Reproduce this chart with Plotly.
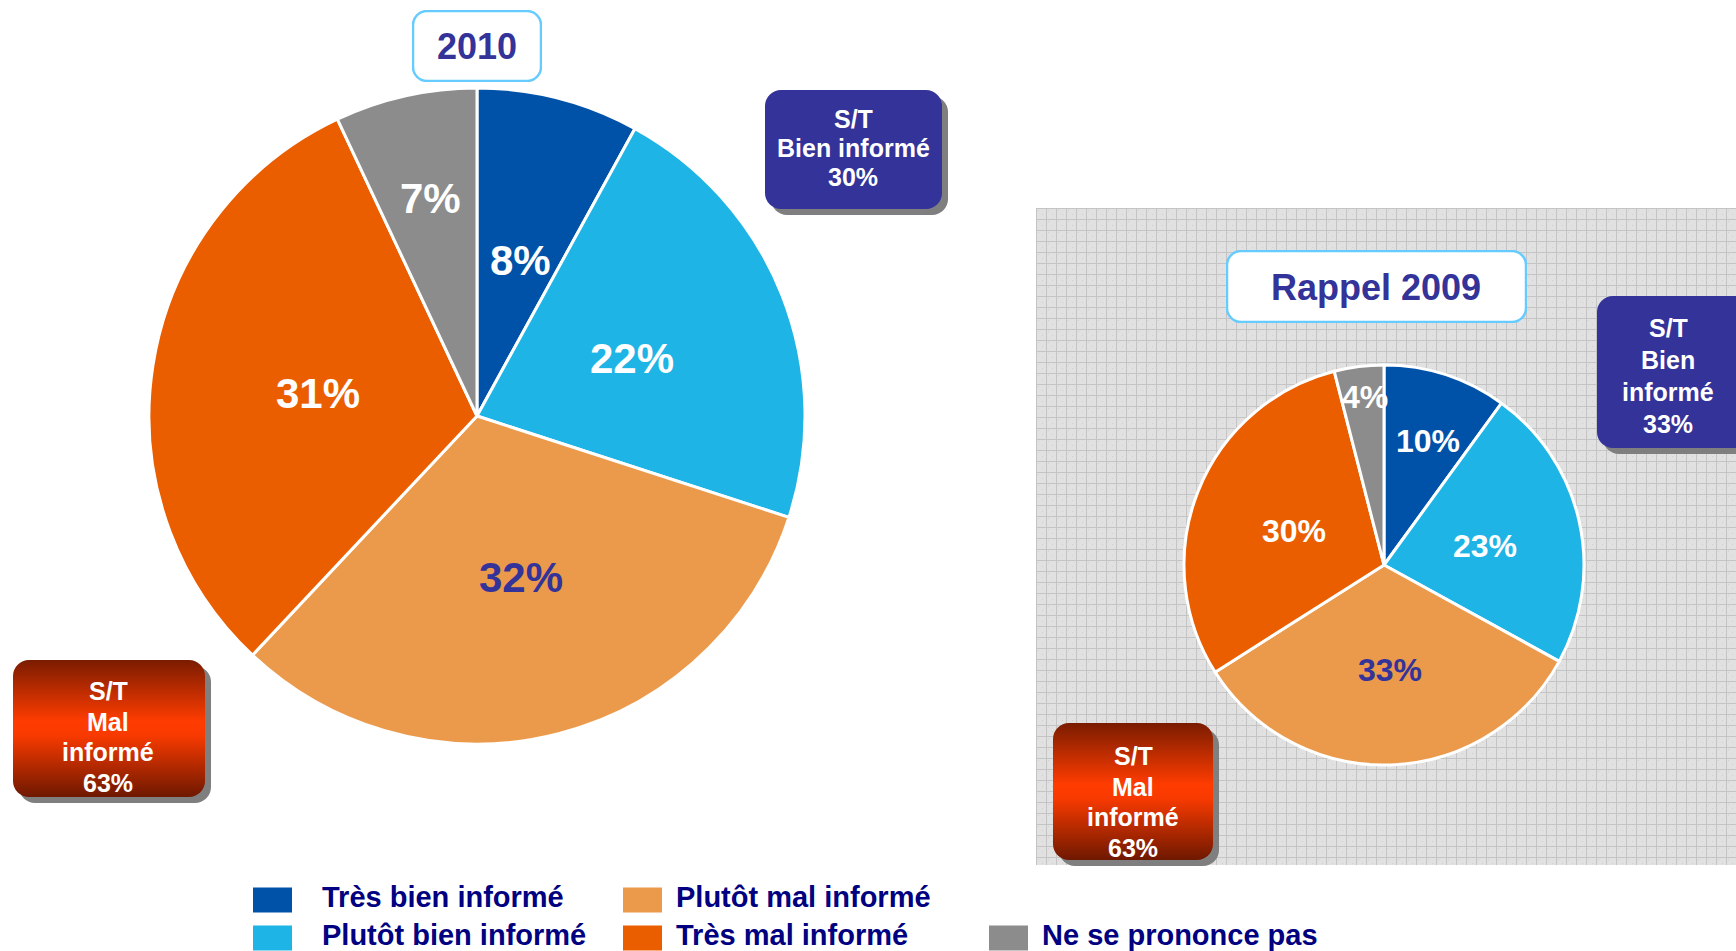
import base64
import math
import plotly.graph_objects as go

# ---------------- data ----------------
categories = ["Très bien informé", "Plutôt bien informé", "Plutôt mal informé",
              "Très mal informé", "Ne se prononce pas"]
values_2010 = [8, 22, 32, 31, 7]
values_2009 = [10, 23, 33, 30, 4]
title_2010 = "2010"
title_2009 = "Rappel 2009"
st_bien_2010 = ["S/T", "Bien informé", "30%"]
st_mal_2010 = ["S/T", "Mal", "informé", "63%"]
st_bien_2009 = ["S/T", "Bien", "informé", "33%"]
st_mal_2009 = ["S/T", "Mal", "informé", "63%"]

# ---------------- styles ----------------
W, H = 1736, 951
colors = ["#0052A8", "#1EB4E6", "#EB9A4C", "#EA5E00", "#8C8C8C"]
text_colors = ["white", "white", "#333399", "white", "white"]
FONT = "Liberation Sans, Arial, sans-serif"
# label distance from centre (fraction of radius), per slice
label_r_2010 = [0.5, 0.5, 0.5, 0.5, 0.69]
label_r_2009 = [0.67, 0.5, 0.51, 0.5, 0.86]
PIE1 = dict(cx=477, cy=416, r=328)
PIE2 = dict(cx=1384, cy=565, r=200)
LABEL_SHIFT = (3, 3)


def fx(x):
    return x / W


def fy(y):
    return 1 - y / H


def svg_uri(svg):
    return "data:image/svg+xml;base64," + base64.b64encode(svg.encode("utf-8")).decode()


def box_image(x0, y0, w, h, fill, r=16, shadow=6, stroke=None, layer="above"):
    tw, th = w + shadow + 2, h + shadow + 2
    defs = ""
    if fill == "redgrad":
        defs = ('<defs><linearGradient id="g" x1="0" y1="0" x2="0" y2="1">'
                '<stop offset="0" stop-color="#7A1C00"/>'
                '<stop offset="0.45" stop-color="#FF3C00"/>'
                '<stop offset="0.55" stop-color="#F83A00"/>'
                '<stop offset="1" stop-color="#6E1800"/></linearGradient></defs>')
        fill_attr = "url(#g)"
    else:
        fill_attr = fill
    sh = ""
    if shadow:
        sh = f'<rect x="{shadow+1}" y="{shadow+1}" width="{w}" height="{h}" rx="{r}" fill="#7F7F7F"/>'
    st = f' stroke="{stroke}" stroke-width="2.5"' if stroke else ""
    svg = (f'<svg xmlns="http://www.w3.org/2000/svg" width="{tw}" height="{th}" '
           f'viewBox="0 0 {tw} {th}">{defs}{sh}'
           f'<rect x="1" y="1" width="{w}" height="{h}" rx="{r}" fill="{fill_attr}"{st}/></svg>')
    return dict(source=svg_uri(svg), xref="paper", yref="paper",
                x=fx(x0 - 1), y=fy(y0 - 1), sizex=tw / W, sizey=th / H,
                xanchor="left", yanchor="top", sizing="stretch", layer=layer)


def panel_image(x0, y0, w, h):
    svg = (f'<svg xmlns="http://www.w3.org/2000/svg" width="{w}" height="{h}" viewBox="0 0 {w} {h}">'
           '<defs><pattern id="p" width="10" height="11" patternUnits="userSpaceOnUse">'
           '<rect width="10" height="11" fill="#E1E1E1"/>'
           '<rect x="2" y="2" width="1" height="1" fill="#D0D0D0"/>'
           '<rect x="6" y="6" width="1" height="1" fill="#D0D0D0"/>'
           '<path d="M0 0.5H10M0.5 0V11" stroke="#C4C4C4" stroke-width="1"/></pattern></defs>'
           f'<rect width="{w}" height="{h}" fill="url(#p)"/></svg>')
    return dict(source=svg_uri(svg), xref="paper", yref="paper",
                x=fx(x0), y=fy(y0), sizex=w / W, sizey=h / H,
                xanchor="left", yanchor="top", sizing="stretch", layer="below")


def text_lines(lines, cx, y_first, spacing, size, color):
    anns = []
    for i, t in enumerate(lines):
        anns.append(dict(text=t, x=fx(cx), y=fy(y_first + i * spacing), xref="paper", yref="paper",
                         showarrow=False, xanchor="center", yanchor="middle",
                         font=dict(family=FONT, size=size, color=color, weight="bold")))
    return anns


def pie_labels(values, pie, rfracs, size):
    anns = []
    total = float(sum(values))
    cum = 0.0
    for v, rf, col in zip(values, rfracs, text_colors):
        mid = (cum + v / 2.0) / total * 2 * math.pi
        cum += v
        x = pie["cx"] + rf * pie["r"] * math.sin(mid) + LABEL_SHIFT[0]
        y = pie["cy"] - rf * pie["r"] * math.cos(mid) + LABEL_SHIFT[1]
        anns.append(dict(text=f"{v}%", x=fx(x), y=fy(y), xref="paper", yref="paper",
                         showarrow=False, xanchor="center", yanchor="middle",
                         font=dict(family=FONT, size=size, color=col, weight="bold")))
    return anns


def pie_domain(p):
    return dict(x=[fx(p["cx"] - p["r"]), fx(p["cx"] + p["r"])],
                y=[fy(p["cy"] + p["r"]), fy(p["cy"] - p["r"])])


fig = go.Figure()

# ---------------- pies ----------------
for vals, p in ((values_2010, PIE1), (values_2009, PIE2)):
    fig.add_trace(go.Pie(
        labels=categories, values=vals, sort=False, direction="clockwise", rotation=0,
        marker=dict(colors=colors, line=dict(color="white", width=3)),
        textinfo="none", hoverinfo="label+value", showlegend=False,
        domain=pie_domain(p),
    ))

# ---------------- decorations ----------------
images = [
    panel_image(1036, 208, 700, 657),
    box_image(413, 11, 128, 70, "white", r=14, shadow=0, stroke="#66CCFF"),
    box_image(1227, 251, 299, 71, "white", r=14, shadow=0, stroke="#66CCFF"),
    box_image(765, 90, 177, 119, "#333399"),
    box_image(13, 660, 192, 137, "redgrad"),
    box_image(1597, 296, 160, 152, "#333399"),
    box_image(1053, 723, 160, 137, "redgrad"),
]

annotations = []
annotations += pie_labels(values_2010, PIE1, label_r_2010, 42)
annotations += pie_labels(values_2009, PIE2, label_r_2009, 32)
annotations += text_lines([title_2010], 477, 46, 0, 36, "#333399")
annotations += text_lines([title_2009], 1376, 287, 0, 36, "#333399")
annotations += text_lines(st_bien_2010, 853, 119, 29, 25, "white")
annotations += text_lines(st_mal_2010, 108, 691, 30.5, 25, "white")
annotations += text_lines(st_bien_2009, 1668, 328, 32, 25, "white")
annotations += text_lines(st_mal_2009, 1133, 756, 30.5, 25, "white")

# ---------------- custom legend ----------------
# (swatch x, text x, row)
legend_pos = [(253, 320, 0), (253, 320, 1), (623, 674, 0), (623, 674, 1), (989, 1040, 1)]
row_y = [900, 938]
shapes = []
for cat, col, (sx, tx, row) in zip(categories, colors, legend_pos):
    yc = row_y[row]
    shapes.append(dict(type="rect", xref="paper", yref="paper",
                       x0=fx(sx), x1=fx(sx + 39), y0=fy(yc + 12.5), y1=fy(yc - 12.5),
                       fillcolor=col, line=dict(width=0)))
    annotations.append(dict(text=cat, x=fx(tx), y=fy(yc - 3), xref="paper", yref="paper",
                            showarrow=False, xanchor="left", yanchor="middle",
                            font=dict(family=FONT, size=29, color="#000080", weight="bold")))

fig.update_layout(
    width=W, height=H, margin=dict(l=0, r=0, t=0, b=0),
    paper_bgcolor="white", plot_bgcolor="white",
    images=images, annotations=annotations, shapes=shapes,
    showlegend=False,
)

fig.write_html("out.html", config={"displayModeBar": False},
               post_script="document.body.style.margin='0';document.body.style.overflow='hidden';")
